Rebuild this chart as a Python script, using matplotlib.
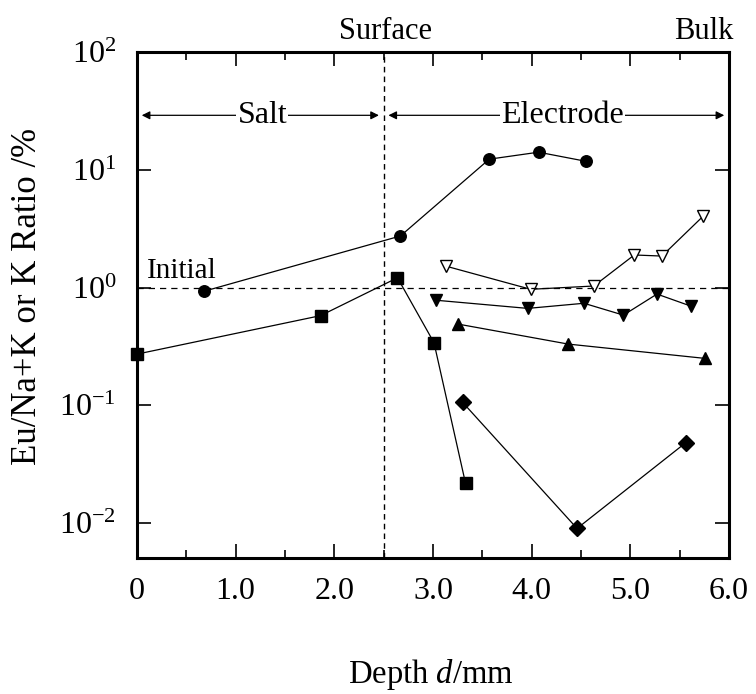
# -*- coding: utf-8 -*-

import numpy as np
import matplotlib
matplotlib.use("Agg")
import matplotlib.pyplot as plt
from matplotlib.ticker import FixedLocator, FuncFormatter

plt.rcParams["font.family"] = ["Liberation Serif", "DejaVu Serif"]
plt.rcParams["mathtext.fontset"] = "custom"
plt.rcParams["mathtext.rm"] = "Liberation Serif"
plt.rcParams["mathtext.it"] = "Liberation Serif:italic"
plt.rcParams["axes.unicode_minus"] = False

# 数据
circle_x = [0.68, 2.67, 3.57, 4.07, 4.55]
circle_y = [0.93, 2.74, 12.3, 14.1, 11.8]

square_x = [0.0, 1.86, 2.64, 3.01, 3.33]
square_y = [0.272, 0.577, 1.21, 0.34, 0.0217]

open_tri_x = [3.13, 3.99, 4.63, 5.04, 5.32, 5.74]
open_tri_y = [1.52, 0.966, 1.03, 1.89, 1.85, 4.05]

down_tri_x = [3.03, 3.96, 4.53, 4.93, 5.27, 5.61]
down_tri_y = [0.78, 0.665, 0.735, 0.583, 0.88, 0.697]

up_tri_x = [3.25, 4.37, 5.76]
up_tri_y = [0.49, 0.331, 0.25]

diamond_x = [3.30, 4.46, 5.56]
diamond_y = [0.106, 0.0090, 0.048]

x_ticks = [0, 1, 2, 3, 4, 5, 6]
y_ticks = [1e-2, 1e-1, 1e0, 1e1, 1e2]
surface_x = 2.5
initial_y = 1.0

fig = plt.figure(figsize=(7.56, 6.94), dpi=100)
ax = fig.add_axes([137 / 756, 136 / 694, 592 / 756, 506 / 694])

lw = 0.9
ax.plot(circle_x, circle_y, "k-o", lw=lw, ms=8.3)
ax.plot(square_x, square_y, "k-s", lw=lw, ms=8, clip_on=False, zorder=3)
ax.plot(open_tri_x, open_tri_y, "k-v", lw=lw, ms=9, mfc="white", mew=1)
ax.plot(down_tri_x, down_tri_y, "k-v", lw=lw, ms=9)
ax.plot(up_tri_x, up_tri_y, "k-^", lw=lw, ms=9)
ax.plot(diamond_x, diamond_y, "k-D", lw=lw, ms=8.5)

ax.axvline(surface_x, color="k", ls=(0, (4, 3)), lw=1)
ax.axhline(initial_y, color="k", ls=(0, (5, 4)), lw=0.9)

ax.set_yscale("log")
ax.set_xlim(0, 6)
ax.set_ylim(5.05e-3, 100)

ax.xaxis.set_major_locator(FixedLocator(x_ticks))
ax.xaxis.set_minor_locator(FixedLocator(np.arange(0.5, 6, 1.0)))
ax.xaxis.set_major_formatter(FuncFormatter(lambda v, p: "0" if v == 0 else "%.1f" % v))
ax.yaxis.set_major_locator(FixedLocator(y_ticks))
ax.yaxis.set_minor_locator(FixedLocator([]))
ax.yaxis.set_major_formatter(FuncFormatter(lambda v, p: r"$\mathdefault{10^{%d}}$" % round(np.log10(v))))

ax.tick_params(which="both", direction="in", top=True, right=True, labelsize=23, width=1.2)
ax.tick_params(which="major", length=10)
ax.tick_params(which="minor", length=5.5)
ax.tick_params(axis="x", pad=14)
ax.tick_params(axis="y", pad=15)
for s in ax.spines.values():
    s.set_linewidth(2.2)

# 区域箭头
arrow_y = 29
ax.annotate("", xy=(0.02, arrow_y), xytext=(surface_x - 0.02, arrow_y),
            arrowprops=dict(arrowstyle="<|-|>", color="k", lw=0.9, mutation_scale=12))
ax.annotate("", xy=(surface_x + 0.02, arrow_y), xytext=(5.98, arrow_y),
            arrowprops=dict(arrowstyle="<|-|>", color="k", lw=0.9, mutation_scale=12))
ax.text(1.27, arrow_y, "Salt", ha="center", va="center", fontsize=23,
        bbox=dict(facecolor="white", edgecolor="none", pad=1))
ax.text(4.31, arrow_y, "Electrode", ha="center", va="center", fontsize=23,
        bbox=dict(facecolor="white", edgecolor="none", pad=1))

ax.text(0.10, 1.204, "Initial", ha="left", va="baseline", fontsize=21)
ax.text(2.52, 1.0257, "Surface", ha="center", va="baseline", fontsize=22,
        transform=ax.get_xaxis_transform())
ax.text(1.0068, 1.0257, "Bulk", ha="right", va="baseline", fontsize=22,
        transform=ax.transAxes)

fig.text(28 / 756, 1 - 296.5 / 694, "Eu/Na+K or K Ratio /%", rotation=90,
         ha="center", va="center", fontsize=25)
fig.text(431 / 756, 1 - 683 / 694, r"Depth $\mathit{d}$/mm", ha="center", va="baseline", fontsize=23.5)

plt.savefig("out.png", dpi=100)
